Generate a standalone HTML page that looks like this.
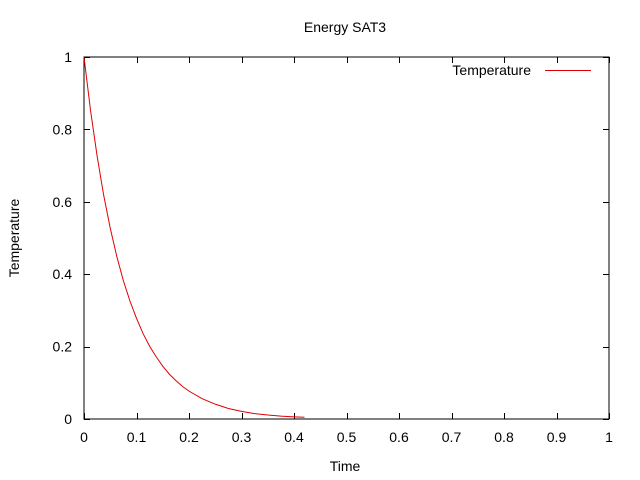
<!DOCTYPE html>
<html><head><meta charset="utf-8"><style>
html,body{margin:0;padding:0;background:#fff;}
svg{display:block;font-family:"Liberation Sans",sans-serif;font-size:14px;}
</style></head><body>
<svg id="chart" width="640" height="480">
<rect width="640" height="480" fill="#fff"/>
<text x="345" y="32" text-anchor="middle">Energy SAT3</text>
<text x="345" y="471" text-anchor="middle">Time</text>
<text transform="translate(19,238) rotate(-90)" text-anchor="middle">Temperature</text>
<g id="ticks"></g>
<rect x="84" y="57" width="525" height="362" fill="none" stroke="#000" stroke-width="1"/>
<g>
<text x="531" y="75" text-anchor="end">Temperature</text>
<line x1="545" y1="70.5" x2="591" y2="70.5" stroke="#e00000" stroke-width="1"/>
</g>
<path id="curve" fill="none" stroke="#e00000" stroke-width="1"/>
</svg>
<script>
const times = [0,0.0125,0.025,0.0375,0.05,0.0625,0.075,0.0875,0.1,0.1125,0.125,0.1375,0.15,0.1625,0.175,0.1875,0.2,0.225,0.25,0.275,0.3,0.325,0.35,0.375,0.4,0.42];
const temps = [1,0.852,0.726,0.618,0.527,0.449,0.382,0.326,0.278,0.236,0.201,0.172,0.146,0.124,0.106,0.090,0.077,0.056,0.041,0.029,0.021,0.015,0.011,0.008,0.006,0.005];
const xTicks = [0,0.1,0.2,0.3,0.4,0.5,0.6,0.7,0.8,0.9,1];
const xTickLabels = ["0","0.1","0.2","0.3","0.4","0.5","0.6","0.7","0.8","0.9","1"];
const yTicks = [0,0.2,0.4,0.6,0.8,1];
const yTickLabels = ["0","0.2","0.4","0.6","0.8","1"];
const X0=84,X1=609,Y0=419,Y1=57;
function sx(v){return X0+(X1-X0)*v;}
function sy(v){return Y0-(Y0-Y1)*v;}
const NS="http://www.w3.org/2000/svg";
const g=document.getElementById('ticks');
function mk(tag,attrs){const e=document.createElementNS(NS,tag);for(const k in attrs)e.setAttribute(k,attrs[k]);return e;}
xTicks.forEach((v,i)=>{
  const x=Math.round(sx(v))+0.5;
  const t1=mk('line',{x1:x,y1:Y0,x2:x,y2:Y0-6,stroke:'#000'});
  
  
  g.appendChild(t1);
  const t2=mk('line',{x1:x,y1:Y1,x2:x,y2:Y1+6,stroke:'#000'});
  
  
  g.appendChild(t2);
  const l=mk('text',{x:sx(v),y:442,'text-anchor':'middle'});
  l.textContent=xTickLabels[i];
  
  
  g.appendChild(l);
});
yTicks.forEach((v,i)=>{
  const y=Math.round(sy(v))+0.5;
  const t1=mk('line',{x1:X0,y1:y,x2:X0+6,y2:y,stroke:'#000'});
  
  
  g.appendChild(t1);
  const t2=mk('line',{x1:X1,y1:y,x2:X1-6,y2:y,stroke:'#000'});
  
  
  g.appendChild(t2);
  const l=mk('text',{x:72,y:sy(v)+5,'text-anchor':'end'});
  l.textContent=yTickLabels[i];
  
  
  g.appendChild(l);
});
document.getElementById('curve').setAttribute('d',times.map((t,i)=>(i?'L':'M')+sx(t).toFixed(2)+','+sy(temps[i]).toFixed(2)).join(' '));
</script>
</body></html>
